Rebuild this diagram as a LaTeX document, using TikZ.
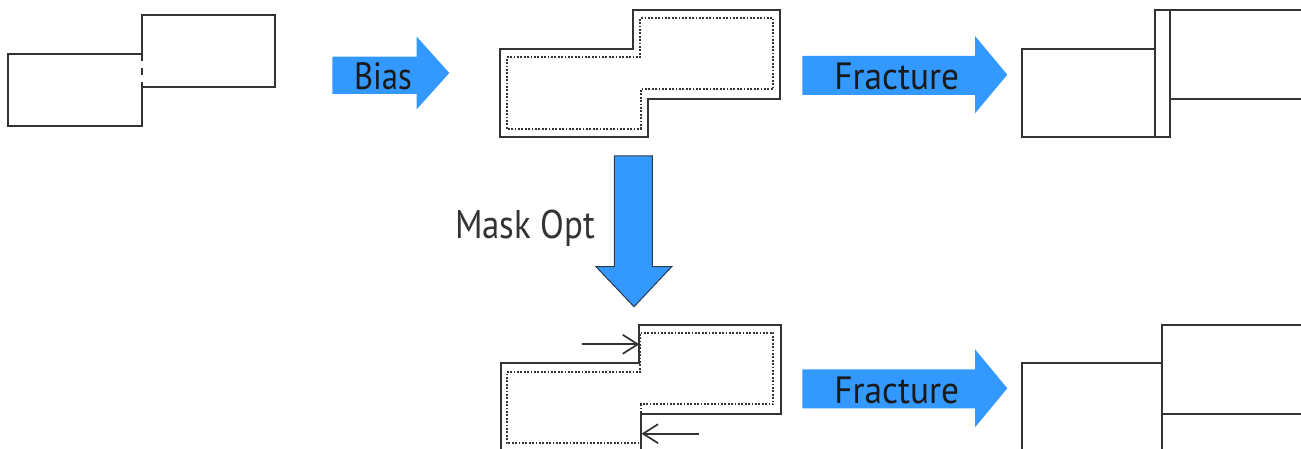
\documentclass[tikz,border=0pt]{standalone}
\usepackage{fontspec}
\setmainfont{PT Sans}
\usetikzlibrary{arrows.meta}
\definecolor{edge}{HTML}{333333}
\definecolor{flow}{HTML}{3399FF}
\definecolor{flowedge}{HTML}{2B3A4A}
\definecolor{ink}{HTML}{1A1A1A}
\tikzset{
  outline/.style={draw=edge, line width=1.8pt, line join=miter},
  biasline/.style={draw=edge, line width=2pt, dash pattern=on 1.8pt off 1.6pt},
  seam/.style={draw=edge, line width=1.8pt, dash pattern=on 7pt off 7pt},
  flowarrow/.style={fill=flow, draw=none},
  flowarrowedged/.style={fill=flow, draw=flowedge, line width=1pt},
  steplabel/.style={text=ink, font=\fontsize{38}{40}\selectfont, inner sep=0pt, anchor=base},
  optlabel/.style={text=edge, font=\fontsize{40}{42}\selectfont, inner sep=0pt, anchor=base west},
  edgepush/.style={draw=edge, line width=1.7pt, -{Straight Barb[length=15pt,width=19pt,line width=1.7pt]}}
}
\begin{document}
\begin{tikzpicture}[x=1pt, y=-1pt]
\useasboundingbox (0,0) rectangle (1301,449);
\clip (0,0) rectangle (1301,449);

% --- original layout: two abutting rectangles with a shared seam
\draw[outline] (142,54.3) -- (8.3,54.3) -- (8.3,126.3) -- (142,126.3) -- (142,86.7)
  -- (274.7,86.7) -- (274.7,15) -- (142,15) -- (142,54.3);
\draw[seam] (142,54.3) -- (142,86.7);

% --- biased layout
\draw[outline] (500,49) -- (633.3,49) -- (633.3,10) -- (780,10) -- (780,99)
  -- (647.7,99) -- (647.7,137.3) -- (500,137.3) -- cycle;
\draw[biasline] (506.7,57.3) -- (640,57.3) -- (640,18.3) -- (773.3,18.3) -- (773.3,89.3)
  -- (640.7,89.3) -- (640.7,129) -- (506.7,129) -- cycle;

% --- fractured biased layout: sliver between the rectangles
\draw[outline] (1022.3,49) rectangle (1155,137.3);
\draw[outline] (1155,10) rectangle (1170.3,137.3);
\draw[outline] (1320,10) -- (1170.3,10) -- (1170.3,99) -- (1320,99);

% --- mask-optimised layout
\draw[outline] (500.7,470) -- (500.7,363.3) -- (639.3,363.3) -- (639.3,325) -- (780.7,325)
  -- (780.7,414) -- (641,414) -- (641,470);
\draw[biasline] (506.7,372.3) -- (640,372.3) -- (640,332.7) -- (773.3,332.7) -- (773.3,404.3)
  -- (641,404.3) -- (641,443.3) -- (506.7,443.3) -- cycle;
\coordinate (pushA) at (581.7,344.3);
\coordinate (edgeA) at (639.3,344.3);
\coordinate (pushB) at (699,433.7);
\coordinate (edgeB) at (641.5,433.7);
\draw[edgepush] (pushA) -- (edgeA);
\draw[edgepush] (pushB) -- (edgeB);

% --- fractured optimised layout: clean split
\draw[outline] (1022.3,470) -- (1022.3,363.3) -- (1162.3,363.3);
\draw[outline] (1162.3,470) -- (1162.3,325) -- (1320,325);
\draw[outline] (1162.3,414) -- (1320,414);

% --- process arrows
\fill[flowarrow] (332.3,56.7) -- (416.7,56.7) -- (416.7,36.7) -- (449.3,73) -- (416.7,109.3)
  -- (416.7,94) -- (332.3,94) -- cycle;
\node[steplabel] (bias) at (383,89.3) {\scalebox{0.86}[1]{Bias}};

\fill[flowarrow] (802.3,56) -- (975,56) -- (975,36) -- (1007.3,74.7) -- (975,113.3)
  -- (975,95) -- (802.3,95) -- cycle;
\node[steplabel] (frac1) at (896.7,90) {\scalebox{0.93}[1]{Fracture}};

\fill[flowarrow] (802.3,369.3) -- (975,369.3) -- (975,349.3) -- (1007.3,388.3) -- (975,427.3)
  -- (975,408.3) -- (802.3,408.3) -- cycle;
\node[steplabel] (frac2) at (896.7,403.3) {\scalebox{0.93}[1]{Fracture}};

\filldraw[flowarrowedged] (614.3,156) -- (652.3,156) -- (652.3,266.7) -- (671.7,266.7)
  -- (634,306.7) -- (596,266.7) -- (614.3,266.7) -- cycle;
\node[optlabel] (opt) at (455,238.3) {\scalebox{0.87}[1]{Mask Opt}};
\end{tikzpicture}
\end{document}
